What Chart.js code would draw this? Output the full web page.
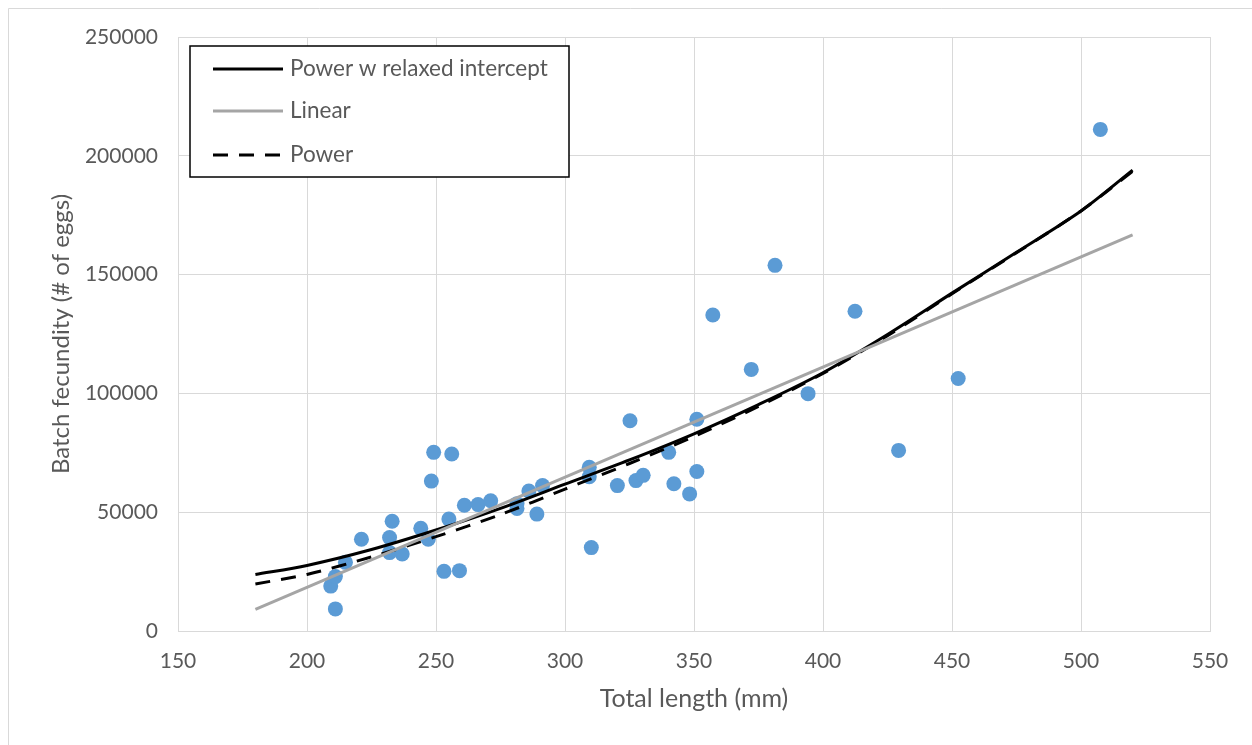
<!DOCTYPE html>
<html>
<head>
<meta charset="utf-8">
<script src="https://cdn.jsdelivr.net/npm/chart.js@4"></script>
<style>
html,body{margin:0;padding:0;background:#fff;}
canvas{display:block;}
</style>
</head>
<body>
<canvas id="c" width="1252" height="745"></canvas>
<script>
// ---- data ----
const lengthMM = [209.2,211,211,214.9,221.1,232,232,233,236.9,244.1,247,248.2,249.1,253.1,255,256.1,259.1,261,266.3,271.2,281.4,281.4,286,289.1,291.3,309.4,309.4,310.2,320.3,325.2,327.5,330.3,340.2,342.2,348.3,351.1,351.1,357.3,372.2,381.4,394.2,412.4,429.3,452.4,507.5];
const fecundity = [18900,22900,9300,28900,38600,33000,39300,46200,32400,43200,38600,63100,75200,25100,47100,74500,25400,52900,53200,54800,51600,53600,58900,49200,61200,68900,64900,35100,61200,88500,63300,65500,75200,62000,57700,89100,67100,133000,110100,153900,99900,134600,76000,106300,211100];

const curveX = [180,200,225,250,275,300,325,350,375,400,425,450,475,500,520];
const relaxedY = [23800,27600,34300,42500,51600,61800,72000,83000,95300,108700,124800,142200,159400,176800,194000];
const powerY   = [19800,23800,31200,39700,49000,59700,70500,81900,94500,108400,124300,141900,159200,176800,193500];
const linearX = [180,520];
const linearY = [9100,166700];

const xTicks = [150,200,250,300,350,400,450,500,550];
const yTicks = [0,50000,100000,150000,200000,250000];

const seriesNames = ['Power w relaxed intercept','Linear','Power'];

const FONT = 'Lato, "Open Sans", sans-serif';
const TXT = '#595959';

function pts(xs, ys){ return xs.map((x,i)=>({x:x,y:ys[i]})); }

const legendPlugin = {
  id:'boxLegend',
  beforeDraw(chart){
    const ctx = chart.ctx;
    ctx.save();
    ctx.fillStyle='#fff';
    ctx.fillRect(0,0,chart.width,chart.height);
    ctx.strokeStyle='#D9D9D9';
    ctx.lineWidth=1;
    ctx.beginPath();
    ctx.moveTo(8.5, chart.height+5);
    ctx.lineTo(8.5, 8.5);
    ctx.lineTo(chart.width+5, 8.5);
    ctx.stroke();
    ctx.restore();
  },
  afterDraw(chart){
    const ctx = chart.ctx;
    ctx.save();
    const bx=190, by=46, bw=379, bh=131;
    ctx.fillStyle='#fff';
    ctx.fillRect(bx,by,bw,bh);
    ctx.strokeStyle='#000';
    ctx.lineWidth=1.5;
    ctx.strokeRect(bx,by,bw,bh);
    const rows=[69,111,155];
    const ds=[chart.data.datasets[0],chart.data.datasets[1],chart.data.datasets[2]];
    ds.forEach((d,i)=>{
      ctx.beginPath();
      ctx.strokeStyle=d.borderColor;
      ctx.lineWidth=d.borderWidth;
      ctx.setLineDash(d.borderDash||[]);
      ctx.moveTo(213,rows[i]);
      ctx.lineTo(283,rows[i]);
      ctx.stroke();
      ctx.setLineDash([]);
      ctx.fillStyle=TXT;
      ctx.font='22.5px '+FONT;
      ctx.textBaseline='middle';
      ctx.textAlign='left';
      ctx.fillText(d.label,290,rows[i]);
    });
    ctx.restore();
  }
};

new Chart(document.getElementById('c'),{
  type:'scatter',
  data:{
    datasets:[
      {label:seriesNames[0],data:pts(curveX,relaxedY),showLine:true,borderColor:'#000000',borderWidth:3,pointRadius:0,tension:0.3,order:3},
      {label:seriesNames[1],data:pts(linearX,linearY),showLine:true,borderColor:'#A5A5A5',borderWidth:3,pointRadius:0,order:1},
      {label:seriesNames[2],data:pts(curveX,powerY),showLine:true,borderColor:'#000000',borderWidth:3,borderDash:[15,11],pointRadius:0,tension:0.3,order:2},
      {label:'Data',data:pts(lengthMM,fecundity),backgroundColor:'#5B9BD5',borderColor:'#5B9BD5',pointRadius:7.5,pointHoverRadius:7.5,borderWidth:0,order:4}
    ]
  },
  options:{
    responsive:false,
    animation:false,
    events:[],
    layout:{padding:{left:0,top:37,right:42,bottom:0}},
    plugins:{legend:{display:false},tooltip:{enabled:false}},
    scales:{
      x:{
        type:'linear',min:150,max:550,
        afterBuildTicks(s){ s.ticks = xTicks.map(v=>({value:v})); },
        afterFit(s){ s.height = 114; },
        grid:{color:'#D9D9D9',lineWidth:1,drawTicks:false},
        border:{display:true,color:'#D9D9D9',width:1},
        ticks:{color:TXT,font:{family:FONT,size:21},padding:18,maxRotation:0,callback:v=>String(v)},
        title:{display:true,text:'Total length (mm)',color:TXT,font:{family:FONT,size:25},padding:{top:0,bottom:31}}
      },
      y:{
        type:'linear',min:0,max:250000,
        afterBuildTicks(s){ s.ticks = yTicks.map(v=>({value:v})); },
        afterFit(s){ s.width = 178; },
        grid:{color:'#D9D9D9',lineWidth:1,drawTicks:false},
        border:{display:true,color:'#D9D9D9',width:1},
        ticks:{color:TXT,font:{family:FONT,size:21},padding:20,callback:v=>String(v)},
        title:{display:true,text:'Batch fecundity (# of eggs)',color:TXT,font:{family:FONT,size:24},padding:{top:47,bottom:0}}
      }
    }
  },
  plugins:[legendPlugin]
});
</script>
</body>
</html>
